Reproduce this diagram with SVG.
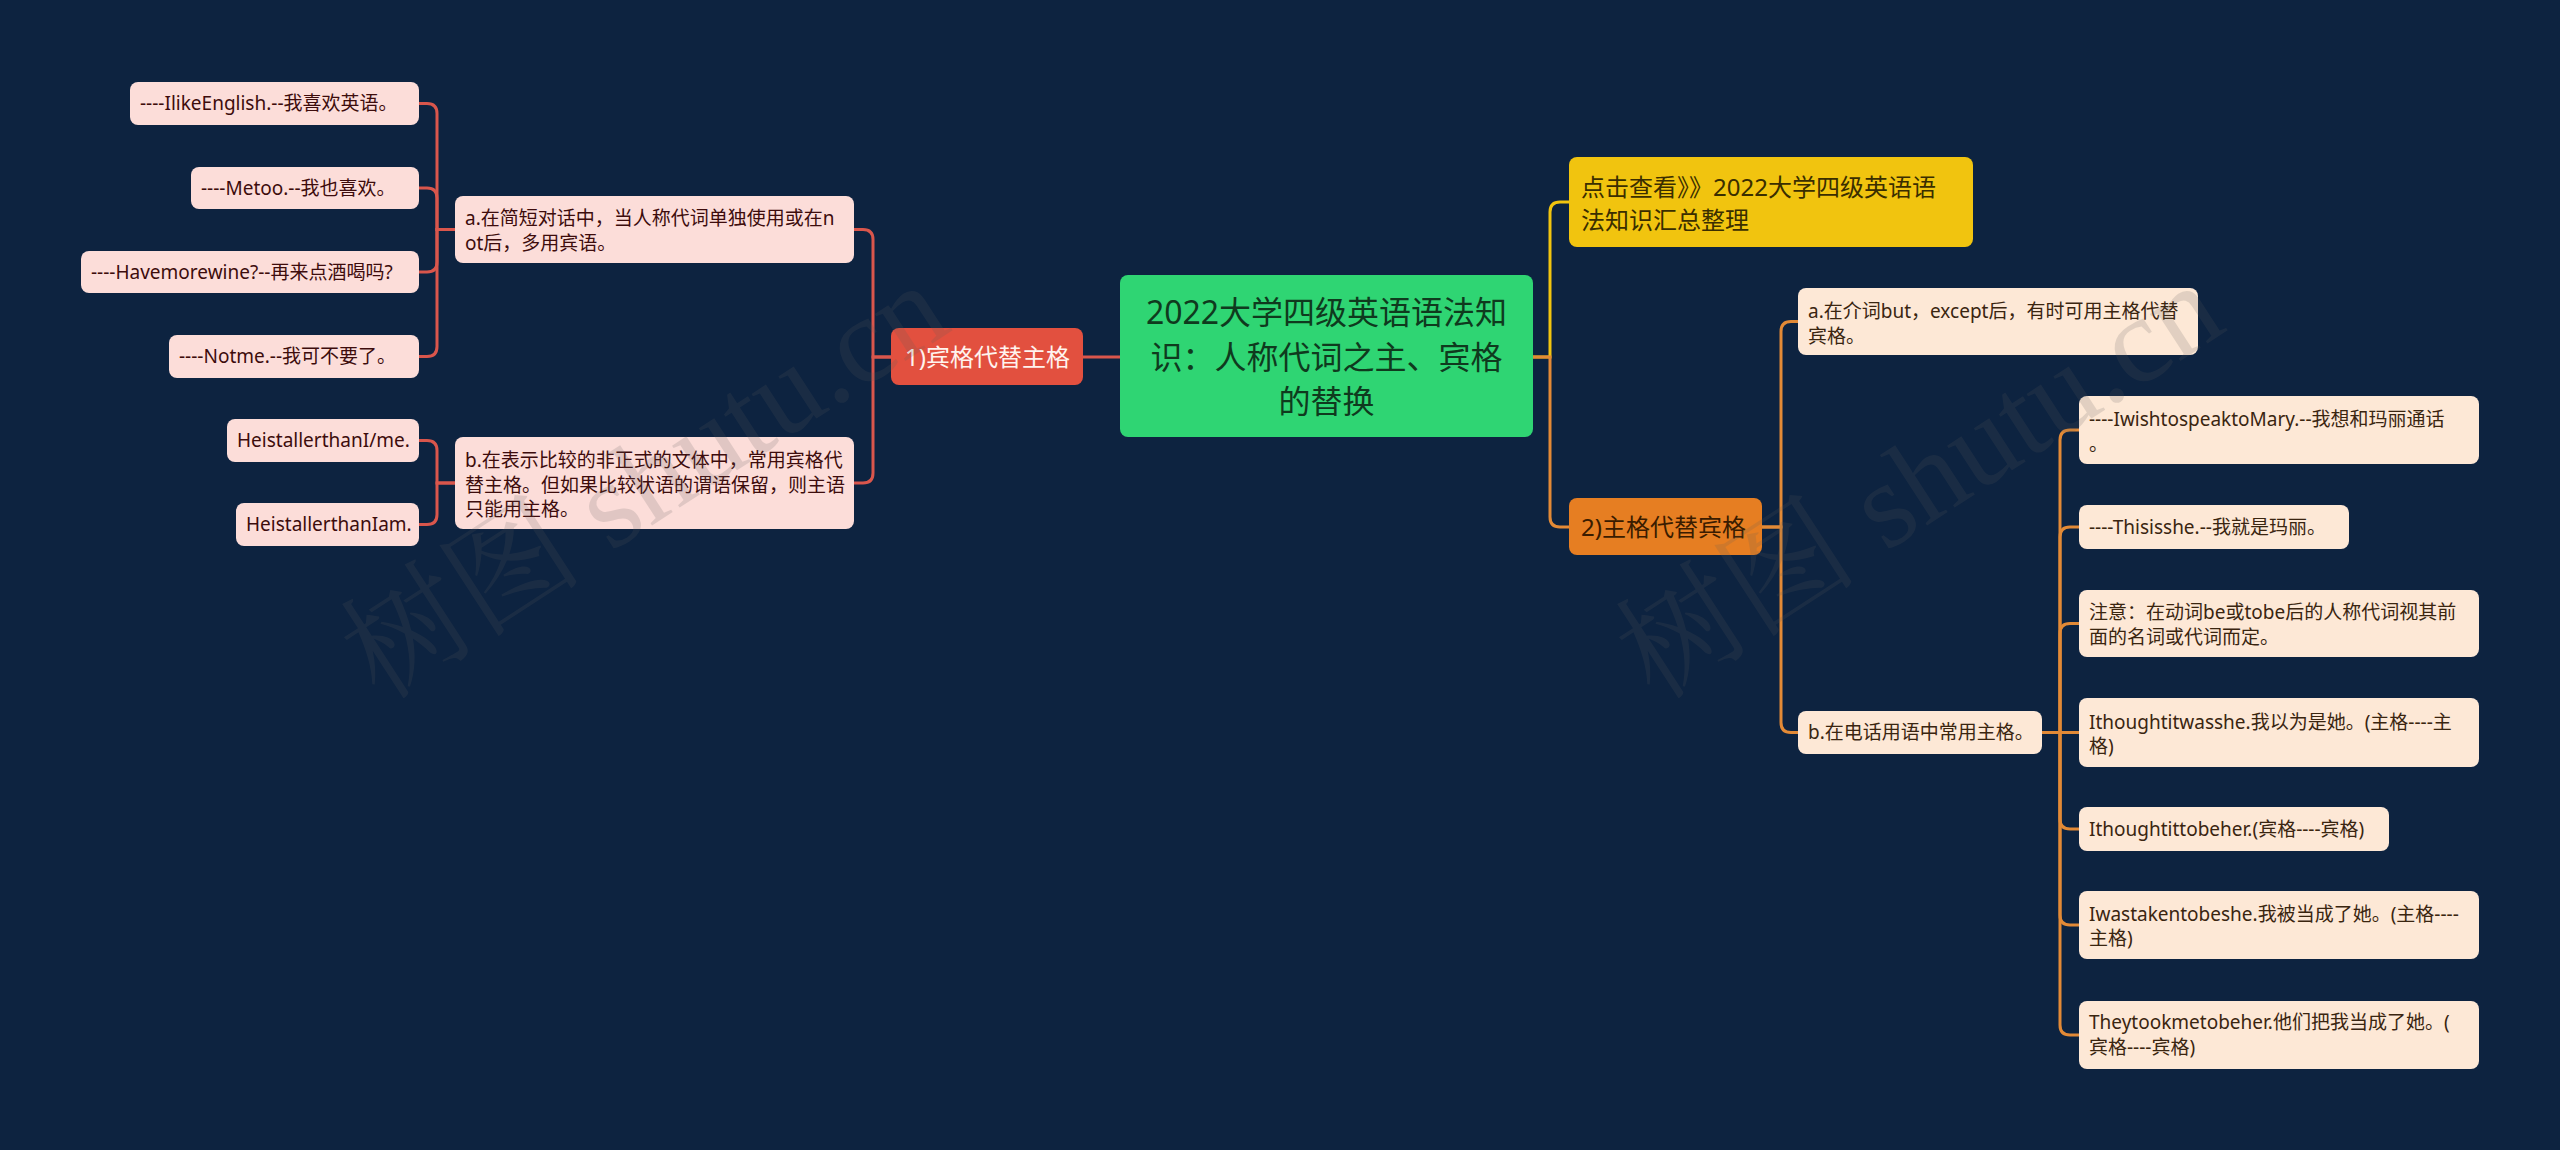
<svg xmlns="http://www.w3.org/2000/svg" width="2560" height="1150" viewBox="0 0 2560 1150">
<style>
text{font-family:"Noto Sans","Noto Sans CJK SC",sans-serif;}
.leafL rect{fill:#fcddd9;}
.leafL text{fill:#3d0c0c;font-size:19px;}
.leafR rect{fill:#fde8d6;}
.leafR text{fill:#3a2510;font-size:19px;}
.cl{fill:none;stroke:#d9564c;stroke-width:3;}
.cr{fill:none;stroke:#e38a36;stroke-width:3;}
.cy{fill:none;stroke:#f1c40f;stroke-width:3;}
.wm{font-family:"Liberation Serif","Noto Serif CJK SC","Noto Sans CJK SC",serif;font-size:122px;fill:#5c5c5c;opacity:0.17;}
</style>
<rect x="0" y="0" width="2560" height="1150" fill="#0d2340"/>

<g id="connectors">
  <path class="cl" d="M1120,357 H1083"/>
  <path class="cy" d="M1533,357 H1550 V212 Q1550,202 1560,202 H1569"/>
  <path class="cr" d="M1533,357 H1550 V517 Q1550,527 1560,527 H1569"/>
  <path class="cl" d="M891,357 H873 V239.5 Q873,229.5 863,229.5 H854"/>
  <path class="cl" d="M891,357 H873 V473 Q873,483 863,483 H854"/>
  <path class="cl" d="M455,229.5 H437 V113.5 Q437,103.5 427,103.5 H419"/>
  <path class="cl" d="M455,229.5 H437 V198 Q437,188 427,188 H419"/>
  <path class="cl" d="M455,229.5 H437 V262 Q437,272 427,272 H419"/>
  <path class="cl" d="M455,229.5 H437 V346.5 Q437,356.5 427,356.5 H419"/>
  <path class="cl" d="M455,483 H437 V450.5 Q437,440.5 427,440.5 H419"/>
  <path class="cl" d="M455,483 H437 V514.5 Q437,524.5 427,524.5 H419"/>
  <path class="cr" d="M1762,527 H1781 V331.5 Q1781,321.5 1791,321.5 H1798"/>
  <path class="cr" d="M1762,527 H1781 V722.5 Q1781,732.5 1791,732.5 H1798"/>
  <path class="cr" d="M2042,732.5 H2060 V440 Q2060,430 2070,430 H2079"/>
  <path class="cr" d="M2042,732.5 H2060 V537 Q2060,527 2070,527 H2079"/>
  <path class="cr" d="M2042,732.5 H2060 V633.5 Q2060,623.5 2070,623.5 H2079"/>
  <path class="cr" d="M2042,732.5 H2079"/>
  <path class="cr" d="M2042,732.5 H2060 V819 Q2060,829 2070,829 H2079"/>
  <path class="cr" d="M2042,732.5 H2060 V915 Q2060,925 2070,925 H2079"/>
  <path class="cr" d="M2042,732.5 H2060 V1025 Q2060,1035 2070,1035 H2079"/>
</g>

<g id="center">
  <rect x="1120" y="275" width="413" height="162" rx="8" fill="#2fd573"/>
  <text x="1326.5" y="324" font-size="32" fill="#0f3a1e" text-anchor="middle">2022大学四级英语语法知</text>
  <text x="1326.5" y="369" font-size="32" fill="#0f3a1e" text-anchor="middle">识：人称代词之主、宾格</text>
  <text x="1326.5" y="413" font-size="32" fill="#0f3a1e" text-anchor="middle">的替换</text>
</g>

<g id="n-yellow">
  <rect x="1569" y="157" width="404" height="90" rx="8" fill="#f1c40f"/>
  <text x="1581" y="196" font-size="24" fill="#3a2e00">点击查看》》2022大学四级英语语</text>
  <text x="1581" y="229" font-size="24" fill="#3a2e00">法知识汇总整理</text>
</g>

<g id="n-1">
  <rect x="891" y="328" width="192" height="57" rx="8" fill="#e2503f"/>
  <text x="905" y="365.5" font-size="24" fill="#fff3ee">1)宾格代替主格</text>
</g>

<g id="n-2">
  <rect x="1569" y="498" width="193" height="57" rx="8" fill="#e67e22"/>
  <text x="1581" y="535.5" font-size="24" fill="#3a1c00">2)主格代替宾格</text>
</g>

<g id="l-a" class="leafL">
  <rect x="455" y="196" width="399" height="67" rx="8"/>
  <text x="465" y="225">a.在简短对话中，当人称代词单独使用或在n</text>
  <text x="465" y="250">ot后，多用宾语。</text>
</g>
<g id="l-a1" class="leafL">
  <rect x="130" y="82" width="289" height="43" rx="8"/>
  <text x="140" y="110">----IlikeEnglish.--我喜欢英语。</text>
</g>
<g id="l-a2" class="leafL">
  <rect x="191" y="167" width="228" height="42" rx="8"/>
  <text x="201" y="194.5">----Metoo.--我也喜欢。</text>
</g>
<g id="l-a3" class="leafL">
  <rect x="81" y="251" width="338" height="42" rx="8"/>
  <text x="91" y="278.5">----Havemorewine?--再来点酒喝吗?</text>
</g>
<g id="l-a4" class="leafL">
  <rect x="169" y="335" width="250" height="43" rx="8"/>
  <text x="179" y="363">----Notme.--我可不要了。</text>
</g>
<g id="l-b" class="leafL">
  <rect x="455" y="437" width="399" height="92" rx="8"/>
  <text x="465" y="467">b.在表示比较的非正式的文体中，常用宾格代</text>
  <text x="465" y="491.5">替主格。但如果比较状语的谓语保留，则主语</text>
  <text x="465" y="516">只能用主格。</text>
</g>
<g id="l-b1" class="leafL">
  <rect x="227" y="419" width="192" height="43" rx="8"/>
  <text x="237" y="447">HeistallerthanI/me.</text>
</g>
<g id="l-b2" class="leafL">
  <rect x="236" y="503" width="183" height="43" rx="8"/>
  <text x="246" y="531">HeistallerthanIam.</text>
</g>

<g id="r-a" class="leafR">
  <rect x="1798" y="288" width="400" height="67" rx="8"/>
  <text x="1808" y="318">a.在介词but，except后，有时可用主格代替</text>
  <text x="1808" y="343">宾格。</text>
</g>
<g id="r-b" class="leafR">
  <rect x="1798" y="711" width="244" height="43" rx="8"/>
  <text x="1808" y="739">b.在电话用语中常用主格。</text>
</g>
<g id="r-b1" class="leafR">
  <rect x="2079" y="396" width="400" height="68" rx="8"/>
  <text x="2089" y="426">----IwishtospeaktoMary.--我想和玛丽通话</text>
  <text x="2089" y="451">。</text>
</g>
<g id="r-b2" class="leafR">
  <rect x="2079" y="505" width="270" height="44" rx="8"/>
  <text x="2089" y="534">----Thisisshe.--我就是玛丽。</text>
</g>
<g id="r-b3" class="leafR">
  <rect x="2079" y="590" width="400" height="67" rx="8"/>
  <text x="2089" y="619">注意：在动词be或tobe后的人称代词视其前</text>
  <text x="2089" y="644">面的名词或代词而定。</text>
</g>
<g id="r-b4" class="leafR">
  <rect x="2079" y="698" width="400" height="69" rx="8"/>
  <text x="2089" y="729">Ithoughtitwasshe.我以为是她。(主格----主</text>
  <text x="2089" y="753">格)</text>
</g>
<g id="r-b5" class="leafR">
  <rect x="2079" y="807" width="310" height="44" rx="8"/>
  <text x="2089" y="836">Ithoughtittobeher.(宾格----宾格)</text>
</g>
<g id="r-b6" class="leafR">
  <rect x="2079" y="891" width="400" height="68" rx="8"/>
  <text x="2089" y="921">Iwastakentobeshe.我被当成了她。(主格----</text>
  <text x="2089" y="945">主格)</text>
</g>
<g id="r-b7" class="leafR">
  <rect x="2079" y="1001" width="400" height="68" rx="8"/>
  <text x="2089" y="1029">Theytookmetobeher.他们把我当成了她。(</text>
  <text x="2089" y="1054">宾格----宾格)</text>
</g>

<g id="watermark">
  <text class="wm" x="380" y="702" transform="rotate(-33 380 702)">树图 shutu.cn</text>
  <text class="wm" x="1655" y="702" transform="rotate(-33 1655 702)">树图 shutu.cn</text>
</g>
</svg>
